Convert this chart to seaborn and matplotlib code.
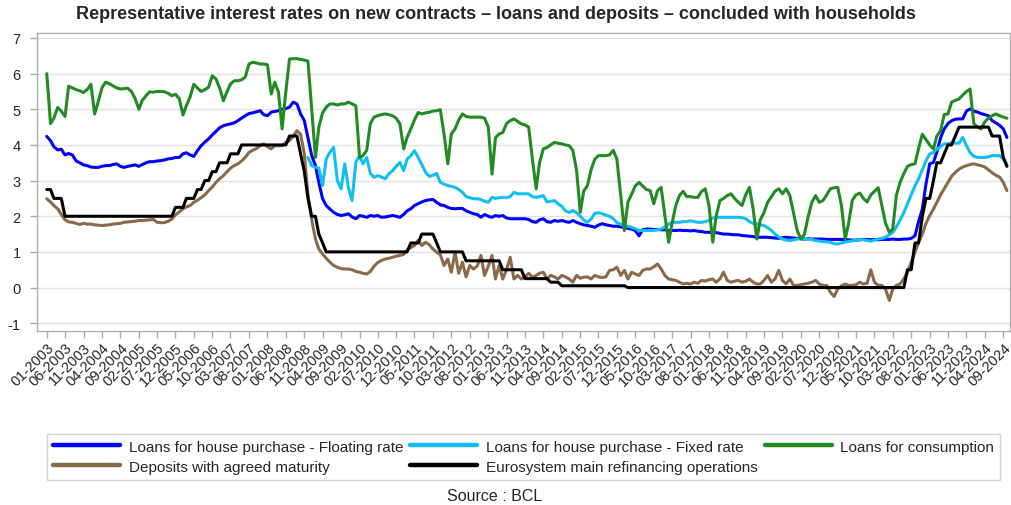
import pandas as pd
import seaborn as sns
import matplotlib.pyplot as plt

# Monthly rates in %, 01-2003 to 10-2024
start_month = '2003-01-01'

floating_rate = [
    4.24, 4.12, 3.95, 3.86, 3.88, 3.72, 3.76, 3.72, 3.55, 3.50, 3.44, 3.42,  # 2003
    3.38, 3.37, 3.37, 3.40, 3.42, 3.42, 3.45, 3.47, 3.40, 3.37, 3.40, 3.42,  # 2004
    3.44, 3.40, 3.45, 3.50, 3.53, 3.53, 3.55, 3.56, 3.58, 3.61, 3.62, 3.65,  # 2005
    3.65, 3.75, 3.78, 3.72, 3.68, 3.84, 3.98, 4.08, 4.17, 4.28, 4.38, 4.48,  # 2006
    4.54, 4.57, 4.59, 4.62, 4.68, 4.75, 4.82, 4.88, 4.90, 4.93, 4.96, 4.85,  # 2007
    4.82, 4.92, 4.94, 4.96, 5.00, 5.02, 5.06, 5.20, 5.15, 4.87, 4.68, 4.20,  # 2008
    3.70, 3.42, 2.95, 2.49, 2.30, 2.20, 2.11, 2.05, 2.02, 2.04, 2.07, 1.98,  # 2009
    1.93, 2.02, 2.00, 1.97, 2.02, 2.00, 2.02, 1.97, 1.98, 2.00, 2.02, 2.00,  # 2010
    1.97, 2.05, 2.15, 2.21, 2.30, 2.35, 2.40, 2.44, 2.46, 2.47, 2.39, 2.32,  # 2011
    2.30, 2.25, 2.22, 2.21, 2.22, 2.22, 2.15, 2.11, 2.07, 2.05, 1.97, 2.05,  # 2012
    2.00, 1.97, 2.02, 2.00, 2.02, 1.95, 1.93, 1.93, 1.93, 1.93, 1.93, 1.91,  # 2013
    1.85, 1.83, 1.90, 1.93, 1.85, 1.83, 1.88, 1.86, 1.88, 1.85, 1.83, 1.88,  # 2014
    1.83, 1.79, 1.76, 1.74, 1.72, 1.69, 1.75, 1.79, 1.76, 1.74, 1.72, 1.72,  # 2015
    1.70, 1.69, 1.66, 1.64, 1.60, 1.45, 1.62, 1.64, 1.64, 1.63, 1.63, 1.62,  # 2016
    1.62, 1.60, 1.60, 1.60, 1.61, 1.60, 1.60, 1.59, 1.60, 1.58, 1.57, 1.55,  # 2017
    1.55, 1.55, 1.54, 1.52, 1.50, 1.50, 1.49, 1.48, 1.48, 1.46, 1.45, 1.44,  # 2018
    1.43, 1.41, 1.41, 1.41, 1.41, 1.40, 1.39, 1.38, 1.40, 1.41, 1.40, 1.39,  # 2019
    1.38, 1.37, 1.36, 1.37, 1.36, 1.36, 1.36, 1.36, 1.35, 1.35, 1.35, 1.35,  # 2020
    1.35, 1.35, 1.34, 1.33, 1.33, 1.34, 1.35, 1.35, 1.34, 1.35, 1.34, 1.35,  # 2021
    1.35, 1.35, 1.36, 1.35, 1.35, 1.36, 1.36, 1.38, 1.45, 1.85, 2.20, 2.90,  # 2022
    3.47, 3.51, 3.80, 4.20, 4.45, 4.60, 4.68, 4.72, 4.73, 4.73, 4.95, 5.01,  # 2023
    4.95, 4.92, 4.88, 4.85, 4.82, 4.68, 4.62, 4.55, 4.45, 4.21,              # 2024
]

# fixed rate series only starts in 12-2008
fixed_start = '2008-12-01'
fixed_rate = [
    3.65,                                                                    # 2008
    3.42, 3.37, 3.35, 2.86, 3.61, 3.80, 3.93, 3.00, 2.77, 3.47, 2.80, 2.44,  # 2009
    3.51, 3.70, 3.47, 3.65, 3.20, 3.09, 3.14, 3.10, 3.05, 3.19, 3.28, 3.40,  # 2010
    3.51, 3.28, 3.60, 3.70, 3.84, 3.65, 3.45, 3.23, 3.12, 3.15, 3.20, 2.95,  # 2011
    2.90, 2.86, 2.84, 2.81, 2.75, 2.67, 2.55, 2.52, 2.49, 2.49, 2.47, 2.42,  # 2012
    2.39, 2.53, 2.50, 2.52, 2.53, 2.52, 2.55, 2.67, 2.63, 2.63, 2.63, 2.63,  # 2013
    2.55, 2.53, 2.55, 2.58, 2.40, 2.42, 2.44, 2.35, 2.28, 2.15, 2.11, 2.16,  # 2014
    2.10, 2.00, 1.90, 1.83, 1.92, 2.08, 2.10, 2.07, 2.03, 2.00, 1.93, 1.82,  # 2015
    1.78, 1.74, 1.72, 1.69, 1.65, 1.60, 1.60, 1.60, 1.60, 1.60, 1.62, 1.64,  # 2016
    1.70, 1.78, 1.83, 1.83, 1.83, 1.85, 1.85, 1.87, 1.85, 1.83, 1.83, 1.85,  # 2017
    1.88, 1.95, 1.97, 1.97, 1.97, 1.97, 1.97, 1.97, 1.97, 1.96, 1.93, 1.85,  # 2018
    1.80, 1.79, 1.76, 1.74, 1.68, 1.60, 1.50, 1.42, 1.36, 1.33, 1.32, 1.34,  # 2019
    1.36, 1.38, 1.37, 1.36, 1.35, 1.32, 1.30, 1.29, 1.28, 1.27, 1.23, 1.22,  # 2020
    1.25, 1.28, 1.29, 1.31, 1.33, 1.35, 1.34, 1.32, 1.30, 1.33, 1.36, 1.38,  # 2021
    1.41, 1.48, 1.55, 1.70, 1.90, 2.10, 2.35, 2.60, 2.85, 3.05, 3.30, 3.55,  # 2022
    3.75, 3.79, 3.88, 3.95, 4.03, 4.03, 4.06, 4.05, 4.05, 4.21, 3.98, 3.79,  # 2023
    3.68, 3.65, 3.65, 3.65, 3.67, 3.70, 3.70, 3.70, 3.61, 3.45,              # 2024
]

consumption = [
    6.00, 4.60, 4.75, 5.05, 4.95, 4.80, 5.65, 5.60, 5.55, 5.52, 5.47, 5.55,  # 2003
    5.70, 4.87, 5.20, 5.60, 5.76, 5.72, 5.66, 5.60, 5.57, 5.58, 5.59, 5.50,  # 2004
    5.30, 5.00, 5.25, 5.38, 5.49, 5.48, 5.50, 5.50, 5.49, 5.45, 5.38, 5.42,  # 2005
    5.30, 4.84, 5.10, 5.35, 5.70, 5.60, 5.50, 5.55, 5.62, 5.94, 5.85, 5.60,  # 2006
    5.24, 5.50, 5.71, 5.80, 5.80, 5.83, 5.90, 6.27, 6.32, 6.30, 6.27, 6.27,  # 2007
    6.25, 5.43, 5.76, 5.48, 4.45, 5.50, 6.41, 6.42, 6.42, 6.40, 6.38, 6.35,  # 2008
    5.00, 3.65, 4.50, 4.90, 5.06, 5.15, 5.15, 5.12, 5.15, 5.15, 5.20, 5.15,  # 2009
    5.10, 3.65, 3.70, 3.85, 4.60, 4.78, 4.82, 4.85, 4.87, 4.85, 4.82, 4.75,  # 2010
    4.59, 3.89, 4.21, 4.45, 4.70, 4.91, 4.87, 4.90, 4.92, 4.95, 4.96, 4.99,  # 2011
    4.30, 3.47, 4.31, 4.45, 4.70, 4.87, 4.80, 4.78, 4.78, 4.78, 4.78, 4.75,  # 2012
    4.50, 3.18, 4.20, 4.31, 4.35, 4.60, 4.68, 4.73, 4.66, 4.59, 4.56, 4.50,  # 2013
    3.60, 2.77, 3.50, 3.89, 3.93, 4.00, 4.07, 4.05, 4.03, 4.00, 3.98, 3.85,  # 2014
    3.30, 2.11, 2.70, 2.86, 3.30, 3.60, 3.70, 3.70, 3.70, 3.72, 3.85, 3.60,  # 2015
    2.60, 1.60, 2.40, 2.62, 2.85, 2.95, 2.85, 2.75, 2.72, 2.35, 2.72, 2.81,  # 2016
    2.02, 1.27, 1.80, 2.30, 2.58, 2.70, 2.55, 2.55, 2.53, 2.53, 2.70, 2.77,  # 2017
    2.30, 1.27, 2.00, 2.44, 2.50, 2.58, 2.63, 2.50, 2.39, 2.30, 2.60, 2.81,  # 2018
    2.21, 1.36, 1.90, 2.10, 2.39, 2.55, 2.70, 2.77, 2.63, 2.77, 2.58, 2.10,  # 2019
    1.60, 1.36, 1.50, 2.00, 2.39, 2.58, 2.39, 2.44, 2.60, 2.77, 2.80, 2.81,  # 2020
    2.30, 1.36, 1.80, 2.45, 2.60, 2.65, 2.50, 2.40, 2.60, 2.70, 2.80, 2.30,  # 2021
    1.80, 1.55, 1.64, 2.60, 2.95, 3.20, 3.40, 3.45, 3.47, 3.90, 4.30, 4.15,  # 2022
    4.00, 3.89, 4.25, 4.40, 4.85, 4.87, 5.20, 5.25, 5.29, 5.40, 5.50, 5.57,  # 2023
    4.60, 4.50, 4.45, 4.65, 4.75, 4.82, 4.87, 4.82, 4.78, 4.75,              # 2024
]

deposits = [
    2.49, 2.40, 2.30, 2.21, 2.05, 1.90, 1.84, 1.83, 1.80, 1.77, 1.80, 1.78,  # 2003
    1.78, 1.76, 1.75, 1.74, 1.75, 1.76, 1.78, 1.79, 1.80, 1.83, 1.84, 1.85,  # 2004
    1.86, 1.88, 1.88, 1.89, 1.90, 1.91, 1.83, 1.82, 1.82, 1.86, 1.92, 2.04,  # 2005
    2.12, 2.21, 2.26, 2.30, 2.39, 2.45, 2.52, 2.60, 2.72, 2.82, 2.95, 3.05,  # 2006
    3.14, 3.25, 3.35, 3.42, 3.47, 3.55, 3.65, 3.79, 3.85, 3.90, 3.98, 4.03,  # 2007
    3.95, 3.89, 3.98, 3.98, 3.98, 4.07, 4.12, 4.25, 4.40, 4.30, 3.75, 2.60,  # 2008
    1.90, 1.36, 1.08, 0.94, 0.82, 0.71, 0.62, 0.57, 0.53, 0.52, 0.52, 0.50,  # 2009
    0.45, 0.43, 0.40, 0.38, 0.45, 0.60, 0.70, 0.76, 0.80, 0.82, 0.85, 0.88,  # 2010
    0.90, 0.93, 1.05, 1.12, 1.18, 1.32, 1.18, 1.27, 1.20, 1.08, 0.99, 0.92,  # 2011
    0.62, 0.80, 0.43, 0.99, 0.40, 0.71, 0.30, 0.62, 0.52, 0.60, 0.90, 0.34,  # 2012
    0.60, 0.90, 0.24, 0.62, 0.24, 0.50, 0.85, 0.24, 0.34, 0.24, 0.30, 0.40,  # 2013
    0.29, 0.34, 0.40, 0.43, 0.24, 0.34, 0.30, 0.24, 0.34, 0.30, 0.24, 0.15,  # 2014
    0.34, 0.26, 0.29, 0.30, 0.24, 0.34, 0.30, 0.28, 0.30, 0.48, 0.50, 0.57,  # 2015
    0.34, 0.48, 0.24, 0.43, 0.38, 0.34, 0.48, 0.52, 0.52, 0.58, 0.66, 0.52,  # 2016
    0.34, 0.24, 0.22, 0.20, 0.15, 0.10, 0.12, 0.10, 0.15, 0.12, 0.20, 0.18,  # 2017
    0.22, 0.24, 0.15, 0.24, 0.43, 0.20, 0.15, 0.18, 0.20, 0.15, 0.18, 0.24,  # 2018
    0.15, 0.10, 0.10, 0.20, 0.34, 0.15, 0.24, 0.48, 0.20, 0.10, 0.24, 0.06,  # 2019
    0.06, 0.08, 0.10, 0.12, 0.15, 0.20, 0.10, 0.06, 0.06, -0.13, -0.25, -0.04,  # 2020
    0.05, 0.10, 0.06, 0.06, 0.08, 0.15, 0.10, 0.12, 0.50, 0.15, 0.06, 0.06,  # 2021
    -0.05, -0.36, -0.04, 0.06, 0.10, 0.24, 0.43, 0.71, 0.99, 1.27, 1.50, 1.80,  # 2022
    2.02, 2.20, 2.39, 2.60, 2.77, 2.95, 3.12, 3.23, 3.32, 3.38, 3.42, 3.45,  # 2023
    3.47, 3.44, 3.42, 3.38, 3.30, 3.22, 3.15, 3.10, 2.95, 2.72,              # 2024
]

# ECB main refinancing rate, end of month
mro_rate = [
    2.75, 2.75, 2.50, 2.50, 2.50, 2.00, 2.00, 2.00, 2.00, 2.00, 2.00, 2.00,  # 2003
    2.00, 2.00, 2.00, 2.00, 2.00, 2.00, 2.00, 2.00, 2.00, 2.00, 2.00, 2.00,  # 2004
    2.00, 2.00, 2.00, 2.00, 2.00, 2.00, 2.00, 2.00, 2.00, 2.00, 2.00, 2.25,  # 2005
    2.25, 2.25, 2.50, 2.50, 2.50, 2.75, 2.75, 3.00, 3.00, 3.25, 3.25, 3.50,  # 2006
    3.50, 3.50, 3.75, 3.75, 3.75, 4.00, 4.00, 4.00, 4.00, 4.00, 4.00, 4.00,  # 2007
    4.00, 4.00, 4.00, 4.00, 4.00, 4.00, 4.25, 4.25, 4.25, 3.75, 3.25, 2.50,  # 2008
    2.00, 2.00, 1.50, 1.25, 1.00, 1.00, 1.00, 1.00, 1.00, 1.00, 1.00, 1.00,  # 2009
    1.00, 1.00, 1.00, 1.00, 1.00, 1.00, 1.00, 1.00, 1.00, 1.00, 1.00, 1.00,  # 2010
    1.00, 1.00, 1.00, 1.25, 1.25, 1.25, 1.50, 1.50, 1.50, 1.50, 1.25, 1.00,  # 2011
    1.00, 1.00, 1.00, 1.00, 1.00, 1.00, 0.75, 0.75, 0.75, 0.75, 0.75, 0.75,  # 2012
    0.75, 0.75, 0.75, 0.75, 0.50, 0.50, 0.50, 0.50, 0.50, 0.50, 0.25, 0.25,  # 2013
    0.25, 0.25, 0.25, 0.25, 0.25, 0.15, 0.15, 0.15, 0.05, 0.05, 0.05, 0.05,  # 2014
    0.05, 0.05, 0.05, 0.05, 0.05, 0.05, 0.05, 0.05, 0.05, 0.05, 0.05, 0.05,  # 2015
    0.05, 0.05, 0.00, 0.00, 0.00, 0.00, 0.00, 0.00, 0.00, 0.00, 0.00, 0.00,  # 2016
    0.00, 0.00, 0.00, 0.00, 0.00, 0.00, 0.00, 0.00, 0.00, 0.00, 0.00, 0.00,  # 2017
    0.00, 0.00, 0.00, 0.00, 0.00, 0.00, 0.00, 0.00, 0.00, 0.00, 0.00, 0.00,  # 2018
    0.00, 0.00, 0.00, 0.00, 0.00, 0.00, 0.00, 0.00, 0.00, 0.00, 0.00, 0.00,  # 2019
    0.00, 0.00, 0.00, 0.00, 0.00, 0.00, 0.00, 0.00, 0.00, 0.00, 0.00, 0.00,  # 2020
    0.00, 0.00, 0.00, 0.00, 0.00, 0.00, 0.00, 0.00, 0.00, 0.00, 0.00, 0.00,  # 2021
    0.00, 0.00, 0.00, 0.00, 0.00, 0.00, 0.50, 0.50, 1.25, 1.25, 2.00, 2.50,  # 2022
    2.50, 3.00, 3.50, 3.50, 3.75, 4.00, 4.00, 4.25, 4.50, 4.50, 4.50, 4.50,  # 2023
    4.50, 4.50, 4.50, 4.50, 4.50, 4.25, 4.25, 4.25, 3.65, 3.40,              # 2024
]

series_names = [
    'Loans for house purchase - Floating rate',
    'Loans for house purchase - Fixed rate',
    'Loans for consumption',
    'Deposits with agreed maturity',
    'Eurosystem main refinancing operations',
]
series_colors = ['#0000ff', '#12bff5', '#228b22', '#8a6a48', '#000000']

for s in (floating_rate, consumption, deposits, mro_rate):
    assert len(s) == 262, len(s)
assert len(fixed_rate) == 191, len(fixed_rate)

dates = pd.date_range(start_month, periods=len(floating_rate), freq='MS')
fixed_dates = pd.date_range(fixed_start, periods=len(fixed_rate), freq='MS')

# long format for seaborn
df = pd.concat([
    pd.DataFrame({'date': dates, 'rate': floating_rate, 'series': series_names[0]}),
    pd.DataFrame({'date': fixed_dates, 'rate': fixed_rate, 'series': series_names[1]}),
    pd.DataFrame({'date': dates, 'rate': consumption, 'series': series_names[2]}),
    pd.DataFrame({'date': dates, 'rate': deposits, 'series': series_names[3]}),
    pd.DataFrame({'date': dates, 'rate': mro_rate, 'series': series_names[4]}),
], ignore_index=True)

sns.set_theme(style='white')
plt.rcParams['font.family'] = ['Liberation Sans', 'DejaVu Sans']
plt.rcParams['axes.unicode_minus'] = False

fig = plt.figure(figsize=(10.12, 5.06), dpi=100)
ax = fig.add_axes([0.0369, 0.3445, 0.9612, 0.5883])

sns.lineplot(data=df, x='date', y='rate', hue='series', hue_order=series_names,
             palette=series_colors, linewidth=2.2, estimator=None, legend=False, ax=ax)

# axes look
ax.set_xlim(dates[0] - pd.Timedelta(days=78), dates[-1] + pd.Timedelta(days=26))
ax.set_ylim(-1.21, 7.14)
ax.set_yticks(range(-1, 8))
ax.yaxis.grid(True, color='#e3e3e3', linewidth=1)
ax.xaxis.grid(False)
for sp in ax.spines.values():
    sp.set_color('#b0b0b0')
    sp.set_linewidth(1)

tick_dates = dates[::5]
ax.set_xticks(tick_dates)
ax.set_xticklabels(tick_dates.strftime('%m-%Y'), rotation=45, ha='right',
                   rotation_mode='anchor', fontsize=10.5)
ax.tick_params(axis='x', bottom=True, length=5, width=1, color='#a9a9a9', pad=2)
ax.tick_params(axis='y', left=True, length=5, width=1, color='#a9a9a9', pad=7, labelsize=10.5)
ax.set_xlabel('')
ax.set_ylabel('')

fig.text(0.49, 0.972, 'Representative interest rates on new contracts \u2013 loans and deposits \u2013 '
         'concluded with households', ha='center', va='center', fontsize=13, fontweight='bold')

# legend in 3 columns, row-wise order like the original
lines = ax.get_lines()[:5]
order = [0, 3, 1, 4, 2]
leg = fig.legend([lines[i] for i in order], [series_names[i] for i in order],
                 loc='center', bbox_to_anchor=(0.0464, 0.049, 0.942, 0.093), mode='expand',
                 ncol=3, fontsize=11, handlelength=4.4, handletextpad=0.55,
                 labelspacing=0.4, borderaxespad=0, frameon=True, fancybox=False,
                 edgecolor='#c8c8c8')
for h in leg.legend_handles:
    h.set_linewidth(3.2)

fig.text(0.489, 0.018, 'Source : BCL', ha='center', va='center', fontsize=11.5)

fig.savefig('out.png', dpi=100)
